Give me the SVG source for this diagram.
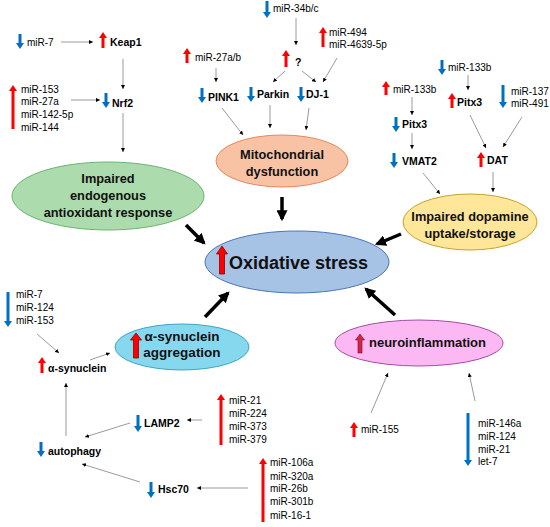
<svg xmlns="http://www.w3.org/2000/svg" width="550" height="527" viewBox="0 0 550 527">
<style>
.t{font-family:"Liberation Sans",Arial,sans-serif;font-size:10px;fill:#000}
.b{font-family:"Liberation Sans",Arial,sans-serif;font-size:10.5px;font-weight:bold;fill:#000}
.e{font-family:"Liberation Sans",Arial,sans-serif;font-size:12.8px;font-weight:bold;fill:#111;text-anchor:middle}
.thin{stroke:#808080;stroke-width:0.8;fill:none;marker-end:url(#sm)}
.thick{stroke:#000;stroke-width:3.5;fill:none;marker-end:url(#big)}
.bl{fill:#0070c0}
.rd{fill:#ff0000}
</style>
<defs>
<marker id="sm" viewBox="0 0 6 6" refX="6" refY="3" markerWidth="4" markerHeight="4" markerUnits="userSpaceOnUse" orient="auto"><path d="M0,0 L6,3 L0,6 z" fill="#000"/></marker>
<marker id="big" viewBox="0 0 10 10" refX="8" refY="5" markerWidth="11" markerHeight="11" markerUnits="userSpaceOnUse" orient="auto"><path d="M0,0 L10,5 L0,10 z" fill="#000"/></marker>
</defs>
<rect width="550" height="527" fill="#fff"/>

<g id="connectors">
<line class="thin" x1="61" y1="42" x2="93" y2="42"/>
<line class="thin" x1="123" y1="59" x2="123" y2="89"/>
<line class="thin" x1="71" y1="100" x2="100" y2="100"/>
<line class="thin" x1="123" y1="113" x2="123" y2="152"/>
<line class="thin" x1="296" y1="18" x2="296" y2="45"/>
<line class="thin" x1="285" y1="71" x2="273" y2="82"/>
<line class="thin" x1="302" y1="71" x2="316" y2="82"/>
<line class="thin" x1="337" y1="58" x2="323" y2="82"/>
<line class="thin" x1="216" y1="68" x2="216" y2="82"/>
<line class="thin" x1="222" y1="108" x2="243" y2="135"/>
<line class="thin" x1="270" y1="105" x2="270" y2="128"/>
<line class="thin" x1="309" y1="108" x2="306" y2="130"/>
<line class="thin" x1="468" y1="75" x2="468" y2="90"/>
<line class="thin" x1="412" y1="97" x2="412" y2="115"/>
<line class="thin" x1="412" y1="133" x2="412" y2="149"/>
<line class="thin" x1="470" y1="115" x2="486" y2="148"/>
<line class="thin" x1="522" y1="117" x2="503" y2="147"/>
<line class="thin" x1="493" y1="172" x2="493" y2="192"/>
<line class="thin" x1="423" y1="173" x2="440" y2="194"/>
<line class="thin" x1="37" y1="334" x2="59" y2="353"/>
<line class="thin" x1="90" y1="360" x2="110" y2="353"/>
<line class="thin" x1="66" y1="436" x2="66" y2="383"/>
<line class="thin" x1="130" y1="423" x2="85" y2="437"/>
<line class="thin" x1="202" y1="420" x2="187" y2="420"/>
<line class="thin" x1="140" y1="482" x2="82" y2="464"/>
<line class="thin" x1="248" y1="488" x2="197" y2="488"/>
<line class="thin" x1="371" y1="413" x2="388" y2="373"/>
<line class="thin" x1="475" y1="401" x2="469" y2="373"/>
<line class="thick" x1="186" y1="225" x2="204" y2="243"/>
<line class="thick" x1="282" y1="197" x2="282" y2="219"/>
<line class="thick" x1="401" y1="234" x2="377" y2="244"/>
<line class="thick" x1="205" y1="317" x2="228" y2="293"/>
<line class="thick" x1="395" y1="315" x2="366" y2="289"/>
</g>

<g id="antioxidant">
<ellipse cx="108" cy="196" rx="96" ry="34" fill="#acdcae" stroke="#6ab46e" stroke-width="1"/>
<text class="e" x="108" y="182.5">Impaired</text>
<text class="e" x="108" y="199.5">endogenous</text>
<text class="e" x="108" y="216.5">antioxidant response</text>
</g>
<g id="mito">
<ellipse cx="282" cy="161" rx="66" ry="26" fill="#f8c3a5" stroke="#e8875a" stroke-width="1"/>
<text class="e" x="282" y="158.5">Mitochondrial</text>
<text class="e" x="282" y="175.5">dysfunction</text>
</g>
<g id="dopamine">
<ellipse cx="470" cy="222" rx="67" ry="28" fill="#ffe699" stroke="#c9a227" stroke-width="1"/>
<text class="e" x="470" y="220.5">Impaired dopamine</text>
<text class="e" x="470" y="237.5">uptake/storage</text>
</g>
<g id="oxidative">
<ellipse cx="297" cy="262" rx="92" ry="31" fill="#a6c3e6" stroke="#4a76b8" stroke-width="1"/>
<path d="M219.5,274 H224.5 V254 H227.5 L222,246 L216.5,254 H219.5 Z" fill="#ff0000" stroke="#8b0000" stroke-width="0.8"/>
<text x="229" y="269" style="font-family:'Liberation Sans',Arial,sans-serif;font-size:18px;font-weight:bold;fill:#111">Oxidative stress</text>
</g>
<g id="asyn-agg">
<ellipse cx="182" cy="347" rx="67" ry="23" fill="#86d8ee" stroke="#3da4c6" stroke-width="1"/>
<path d="M133.5,358 H138.5 V340 H141.5 L136,333 L130.5,340 H133.5 Z" fill="#ff0000" stroke="#8b0000" stroke-width="0.8"/>
<text x="182" y="341" style="font-family:'Liberation Sans',Arial,sans-serif;font-size:13.5px;font-weight:bold;fill:#111;text-anchor:middle">α-synuclein</text>
<text x="182" y="357" style="font-family:'Liberation Sans',Arial,sans-serif;font-size:13.5px;font-weight:bold;fill:#111;text-anchor:middle">aggregation</text>
</g>
<g id="neuro">
<ellipse cx="419" cy="343" rx="84" ry="23" fill="#fbb8f2" stroke="#a64ca6" stroke-width="1"/>
<path d="M358,353 H362 V340 H364.5 L360,334 L355.5,340 H358 Z" fill="#d0284a" stroke="#8b0020" stroke-width="0.6"/>
<text x="369" y="347" style="font-family:'Liberation Sans',Arial,sans-serif;font-size:13px;font-weight:bold;fill:#111">neuroinflammation</text>
</g>

<g id="keap1-nrf2">
<path class="bl" d="M18.5,34 H21.5 V43 H24 L20,49 L16,43 H18.5 Z"/>
<text class="t" x="27" y="45.6">miR-7</text>
<path class="rd" d="M101.5,48 H104.5 V38 H107 L103,32 L99,38 H101.5 Z"/>
<text class="b" x="110" y="45.8">Keap1</text>
<path class="rd" d="M11.5,129 H14.5 V91 H17 L13,85 L9,91 H11.5 Z"/>
<text class="t" x="21" y="92.6">miR-153</text>
<text class="t" x="21" y="104.6">miR-27a</text>
<text class="t" x="21" y="117.6">miR-142-5p</text>
<text class="t" x="21" y="130.6">miR-144</text>
<path class="bl" d="M104.5,93 H107.5 V102 H110 L106,108 L102,102 H104.5 Z"/>
<text class="b" x="112" y="106.8">Nrf2</text>
</g>

<g id="mito-genes">
<path class="bl" d="M265.5,1 H268.5 V12 H271 L267,18 L263,12 H265.5 Z"/>
<text class="t" x="273" y="11.6">miR-34b/c</text>
<path class="rd" d="M284.5,67 H287.5 V56 H290 L286,50 L282,56 H284.5 Z"/>
<text class="b" x="295" y="65.8">?</text>
<path class="rd" d="M321.5,47 H324.5 V33 H327 L323,27 L319,33 H321.5 Z"/>
<text class="t" x="329" y="35.6">miR-494</text>
<text class="t" x="329" y="47.6">miR-4639-5p</text>
<path class="rd" d="M185.5,63 H188.5 V54 H191 L187,48 L183,54 H185.5 Z"/>
<text class="t" x="195" y="60.6">miR-27a/b</text>
<path class="bl" d="M200.5,88 H203.5 V97 H206 L202,103 L198,97 H200.5 Z"/>
<text class="b" x="208" y="100.8">PINK1</text>
<path class="bl" d="M249.5,87 H252.5 V96 H255 L251,102 L247,96 H249.5 Z"/>
<text class="b" x="257" y="97.8">Parkin</text>
<path class="bl" d="M299.5,87 H302.5 V96 H305 L301,102 L297,96 H299.5 Z"/>
<text class="b" x="306" y="97.8">DJ-1</text>
</g>

<g id="dopamine-genes">
<path class="bl" d="M440.5,60 H443.5 V69 H446 L442,75 L438,69 H440.5 Z"/>
<text class="t" x="448" y="70.6">miR-133b</text>
<path class="rd" d="M450.5,108 H453.5 V99 H456 L452,93 L448,99 H450.5 Z"/>
<text class="b" x="457" y="105.8">Pitx3</text>
<path class="bl" d="M501.5,85 H504.5 V102 H507 L503,108 L499,102 H501.5 Z"/>
<text class="t" x="511" y="94.6">miR-137</text>
<text class="t" x="511" y="106.6">miR-491</text>
<path class="rd" d="M384.5,95 H387.5 V87 H390 L386,81 L382,87 H384.5 Z"/>
<text class="t" x="393" y="92.6">miR-133b</text>
<path class="bl" d="M394.5,117 H397.5 V126 H400 L396,132 L392,126 H394.5 Z"/>
<text class="b" x="402" y="127.8">Pitx3</text>
<path class="bl" d="M392.5,153 H395.5 V162 H398 L394,168 L390,162 H392.5 Z"/>
<text class="b" x="402" y="164.8">VMAT2</text>
<path class="rd" d="M479.5,167 H482.5 V158 H485 L481,152 L477,158 H479.5 Z"/>
<text class="b" x="487" y="163.8">DAT</text>
</g>

<g id="asyn-genes">
<path class="bl" d="M6.5,292 H9.5 V321 H12 L8,327 L4,321 H6.5 Z"/>
<text class="t" x="16" y="297.6">miR-7</text>
<text class="t" x="16" y="310.6">miR-124</text>
<text class="t" x="16" y="323.6">miR-153</text>
<path class="rd" d="M40.5,373 H43.5 V363 H46 L42,357 L38,363 H40.5 Z"/>
<text class="b" x="48" y="371.8">α-synuclein</text>
<path class="bl" d="M39.5,442 H42.5 V451 H45 L41,457 L37,451 H39.5 Z"/>
<text class="b" x="48" y="454.8">autophagy</text>
<path class="bl" d="M136.5,415 H139.5 V426 H142 L138,432 L134,426 H136.5 Z"/>
<text class="b" x="144" y="426.8">LAMP2</text>
<path class="rd" d="M219.5,445 H222.5 V400 H225 L221,394 L217,400 H219.5 Z"/>
<text class="t" x="229" y="403.6">miR-21</text>
<text class="t" x="229" y="416.6">miR-224</text>
<text class="t" x="229" y="429.6">miR-373</text>
<text class="t" x="229" y="442.6">miR-379</text>
<path class="bl" d="M149.5,482 H152.5 V492 H155 L151,498 L147,492 H149.5 Z"/>
<text class="b" x="158" y="492.8">Hsc70</text>
<path class="rd" d="M261.5,522 H264.5 V464 H267 L263,458 L259,464 H261.5 Z"/>
<text class="t" x="270" y="465.6">miR-106a</text>
<text class="t" x="270" y="479.6">miR-320a</text>
<text class="t" x="270" y="491.6">miR-26b</text>
<text class="t" x="270" y="504.6">miR-301b</text>
<text class="t" x="270" y="518.6">miR-16-1</text>
</g>

<g id="neuro-genes">
<path class="rd" d="M352.5,437 H355.5 V428 H358 L354,422 L350,428 H352.5 Z"/>
<text class="t" x="361" y="432.6">miR-155</text>
<path class="bl" d="M466.5,413 H469.5 V460 H472 L468,466 L464,460 H466.5 Z"/>
<text class="t" x="478" y="426.6">miR-146a</text>
<text class="t" x="478" y="439.6">miR-124</text>
<text class="t" x="478" y="452.6">miR-21</text>
<text class="t" x="478" y="464.6">let-7</text>
</g>
</svg>
